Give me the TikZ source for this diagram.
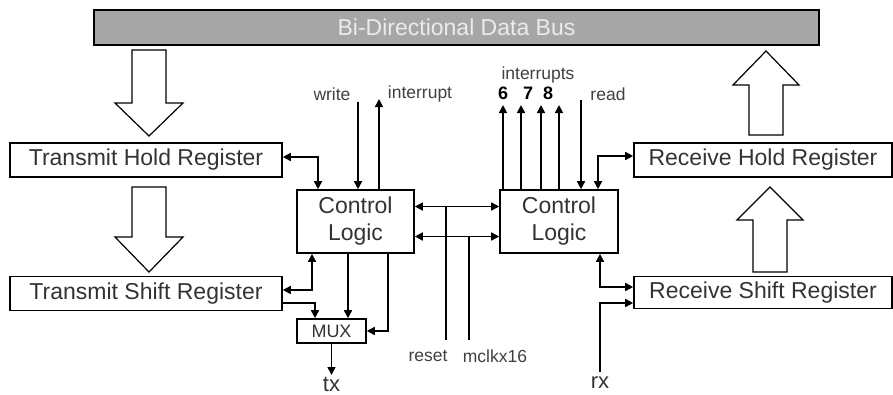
\documentclass[tikz,border=0pt]{standalone}
\usepackage{fontspec}
\setmainfont{Liberation Sans}
\usetikzlibrary{arrows.meta}
\begin{document}
\begin{tikzpicture}[x=1pt, y=-1pt, line width=1.6pt,
    >={Triangle[length=8pt,width=8pt]},
    reg/.style={draw, minimum width=272pt, minimum height=34pt, inner sep=0pt,
        font=\fontsize{23}{26}\selectfont, text=black!80},
    ctl/.style={draw, minimum width=117pt, minimum height=63pt, inner sep=0pt, align=center,
        font=\fontsize{23}{27}\selectfont, text=black!80},
    lbl/.style={inner sep=0pt, font=\fontsize{17.5}{20}\selectfont, text=black!75},
    io/.style={inner sep=1pt, font=\fontsize{22}{24}\selectfont, text=black!80},
    fat/.style={line width=1.2pt}]
\useasboundingbox (0,0) rectangle (893,394);

\node[draw, fill=black!35, minimum width=725pt, minimum height=35pt, inner sep=0pt,
    font=\fontsize{23}{26}\selectfont, text=black!8] (bus) at (456.5,27.5) {Bi-Directional Data Bus};

\node[reg] (thr) at (146,160) {Transmit Hold Register};
\node[reg] (tsr) at (146,293.5) {Transmit Shift Register};
\node[reg, minimum width=258pt] (rhr) at (763,160) {Receive Hold Register};
\node[reg, minimum width=258pt, minimum height=32pt] (rsr) at (763,292.5) {Receive Shift Register};
\node[ctl] (ctlt) at (355.5,221.5) {Control\\Logic};
\node[ctl, minimum width=118pt] (ctlr) at (559,221.5) {Control\\Logic};
\node[draw, minimum width=69pt, minimum height=24pt, inner sep=0pt,
    font=\fontsize{18}{20}\selectfont, text=black!80] (mux) at (331.5,331) {MUX};

\draw[fat] (132,50) -- (166,50) -- (166,103) -- (183,103) -- (149,136) -- (115,103) -- (132,103) -- cycle;
\draw[fat] (132,187) -- (166,187) -- (166,237) -- (183,237) -- (149,272) -- (115,237) -- (132,237) -- cycle;
\draw[fat] (749,135) -- (783,135) -- (783,85) -- (799,85) -- (766,51) -- (733,85) -- (749,85) -- cycle;
\draw[fat] (753,272) -- (787,272) -- (787,220) -- (803,220) -- (770,187) -- (737,220) -- (753,220) -- cycle;

\node[lbl] (lwrite) at (332,94) {write};
\node[lbl] (lintr) at (420,94) {interrupt};
\node[lbl] (lints) at (538,75) {interrupts};
\node[lbl, font=\bfseries\fontsize{18}{20}\selectfont, text=black] (n6) at (503,93) {6};
\node[lbl, font=\bfseries\fontsize{18}{20}\selectfont, text=black] (n7) at (528,93) {7};
\node[lbl, font=\bfseries\fontsize{18}{20}\selectfont, text=black] (n8) at (548,93) {8};
\node[lbl] (lread) at (608,94) {read};
\node[lbl] (lreset) at (428,356) {reset};
\node[lbl] (lclk) at (495,356) {mclkx16};
\node[io, anchor=north] (tx) at (331.5,375) {tx};
\node[io, anchor=north] (rx) at (600,375) {rx};

\coordinate (wtop) at (358,102);
\coordinate (itop) at (379,99);
\coordinate (ints) at (559,105);
\coordinate (rtop) at (581,100);
\coordinate (rbot) at (446,340);
\coordinate (mbot) at (469,340);
\coordinate (rxbot) at (600,372);

\draw[<->] ([yshift=3pt]thr.east) -| ([xshift=-37.5pt]ctlt.north);
\draw[->] (wtop) -- (wtop |- ctlt.north);
\draw[->] ([xshift=23.5pt]ctlt.north) -- (itop);
\draw[<->] ([yshift=3.5pt]tsr.east) -| ([xshift=-43.5pt]ctlt.south);
\draw[->] ([yshift=-9.5pt]tsr.east) -| ([xshift=-16.5pt]mux.north);
\draw[->] ([xshift=-7.5pt]ctlt.south) -- ([xshift=16.5pt]mux.north);
\draw[->] ([xshift=32.5pt]ctlt.south) |- (mux.east);
\draw[->] (mux.south) -- (tx.north);

\draw[<->] ([yshift=15pt]ctlt.east) coordinate (ra) -- ([yshift=15pt]ctlr.west);
\draw[<->] ([yshift=-15pt]ctlt.east) coordinate (rb) -- ([yshift=-15pt]ctlr.west);
\draw (rbot) -- (rbot |- ra);
\draw (mbot) -- (mbot |- rb);

\foreach \dx in {-56,-38,-18,0}
    \draw[->] ([xshift=\dx pt]ctlr.north) -- ([xshift=\dx pt]ints);
\draw[->] (rtop) -- (rtop |- ctlr.north);
\draw[<->] ([xshift=39pt]ctlr.north) |- ([yshift=4pt]rhr.west);
\draw[<->] ([xshift=41pt]ctlr.south) |- ([yshift=5.5pt]rsr.west);
\draw[->] (rxbot) |- ([yshift=-10.5pt]rsr.west);
\end{tikzpicture}
\end{document}
